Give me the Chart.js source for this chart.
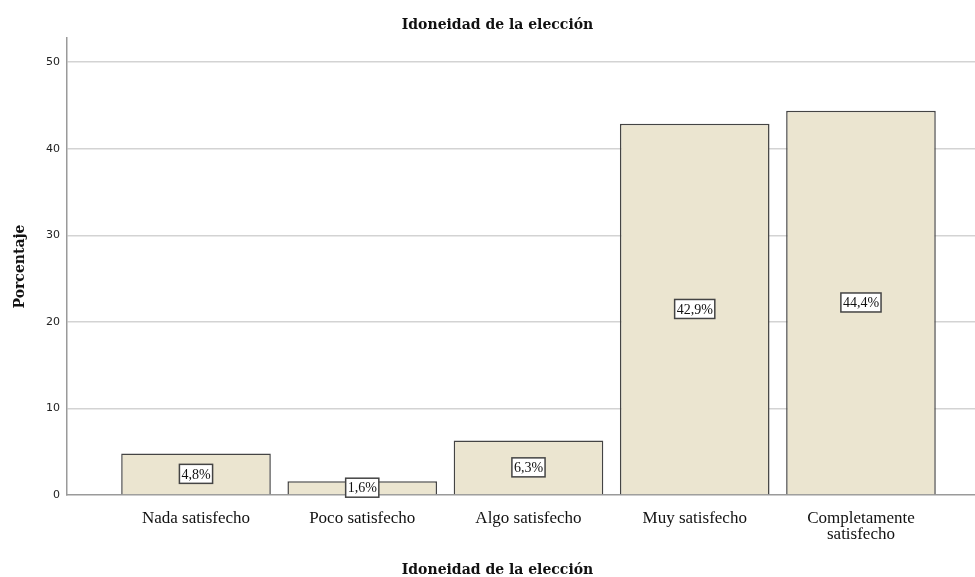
<!DOCTYPE html>
<html>
<head>
<meta charset="utf-8">
<script src="https://cdn.jsdelivr.net/npm/chart.js@4/dist/chart.umd.min.js"></script>
<style>
  html, body { margin: 0; padding: 0; background: #fff; }
  #wrap { width: 975px; height: 577px; position: relative; }
</style>
</head>
<body>
<div id="wrap"><canvas id="chart"></canvas></div>
<script>
// data
const categories = ['Nada satisfecho', 'Poco satisfecho', 'Algo satisfecho', 'Muy satisfecho', ['Completamente', 'satisfecho']];
const percentages = [4.8, 1.6, 6.3, 42.9, 44.4];
const yTicks = [0, 10, 20, 30, 40, 50];
const chartTitle = 'Idoneidad de la elección';
const xTitle = 'Idoneidad de la elección';
const yTitle = 'Porcentaje';

const serif = '"Liberation Serif", "Times New Roman", serif';

// Title + x axis title, centered like SPSS output
const titlesPlugin = {
    id: 'titles',
    afterDraw(chart) {
        const ctx = chart.ctx;
        const cx = chart.width / 2 + 10;
        ctx.save();
        ctx.fillStyle = '#111';
        ctx.textAlign = 'center';
        ctx.textBaseline = 'middle';
        ctx.font = 'bold 14px "DejaVu Serif", serif';
        ctx.fillText(chartTitle, cx, 25);
        ctx.fillText(xTitle, cx, chart.height - 7);
        ctx.restore();
    }
};

// Boxed value labels in the middle of each bar
const valueLabels = {
    id: 'valueLabels',
    afterDatasetsDraw(chart) {
        const ctx = chart.ctx;
        const meta = chart.getDatasetMeta(0);
        ctx.save();
        ctx.font = '14px ' + serif;
        ctx.textAlign = 'center';
        ctx.textBaseline = 'middle';
        meta.data.forEach((bar, i) => {
            const txt = percentages[i].toFixed(1).replace('.', ',') + '%';
            const w = ctx.measureText(txt).width + 4;
            const h = 19;
            const y = (bar.y + bar.base) / 2;
            ctx.fillStyle = '#fff';
            ctx.fillRect(bar.x - w / 2, y - h / 2, w, h);
            ctx.strokeStyle = '#444';
            ctx.lineWidth = 1.5;
            ctx.strokeRect(bar.x - w / 2, y - h / 2, w, h);
            ctx.fillStyle = '#111';
            ctx.fillText(txt, bar.x, y + 1);
        });
        ctx.restore();
    }
};

new Chart(document.getElementById('chart'), {
    type: 'bar',
    data: {
        datasets: [{
            data: percentages.map((v, i) => ({ x: i, y: v })),
            backgroundColor: '#ebe5d0',
            borderColor: '#444',
            borderWidth: 1.5,
            barPercentage: 0.9,
            categoryPercentage: 1
        }]
    },
    options: {
        responsive: true,
        maintainAspectRatio: false,
        animation: false,
        layout: { padding: { top: 38, right: 0, bottom: 0, left: 0 } },
        plugins: {
            legend: { display: false },
            tooltip: { enabled: false }
        },
        scales: {
            x: {
                type: 'linear',
                offset: false,
                min: -0.776,
                max: 4.686,
                afterBuildTicks: (scale) => {
                    scale.ticks = categories.map((c, i) => ({ value: i }));
                },
                afterFit: (scale) => { scale.height = 82; },
                grid: { display: false, drawTicks: false, offset: false },
                border: { display: true, color: '#9a9a9a', width: 1.5 },
                ticks: {
                    padding: 15,
                    autoSkip: false,
                    maxRotation: 0,
                    color: '#111',
                    font: { family: serif, size: 17, lineHeight: 0.95 },
                    callback: (v) => categories[v]
                }
            },
            y: {
                min: 0,
                max: 52.8,
                afterBuildTicks: (scale) => {
                    scale.ticks = yTicks.map(v => ({ value: v }));
                },
                afterFit: (scale) => { scale.width = 67; },
                grid: {
                    color: (c) => c.tick && c.tick.value === 0 ? 'rgba(0,0,0,0)' : '#d3d3d3',
                    lineWidth: 1.5,
                    drawTicks: false
                },
                border: { display: true, color: '#9a9a9a', width: 1.5 },
                ticks: {
                    padding: 7,
                    color: '#222',
                    font: { family: '"DejaVu Sans", Verdana, sans-serif', size: 11 }
                },
                title: {
                    display: true,
                    text: yTitle,
                    color: '#111',
                    padding: { top: 12, bottom: 0 },
                    font: { family: '"DejaVu Serif", serif', size: 14, weight: 'bold' }
                }
            }
        }
    },
    plugins: [titlesPlugin, valueLabels]
});
</script>
</body>
</html>
